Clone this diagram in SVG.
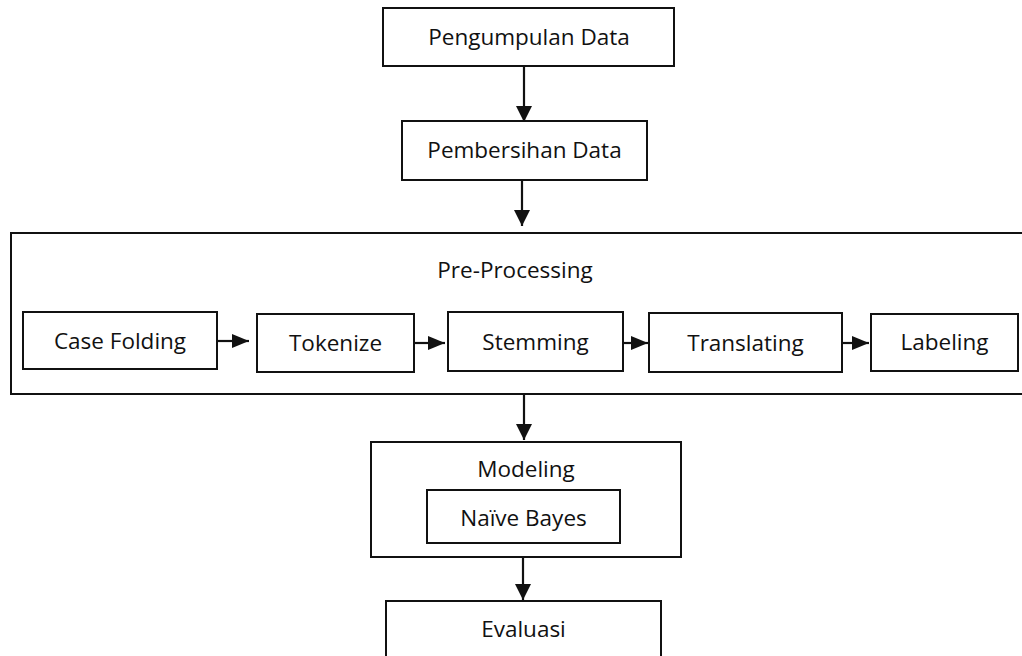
<svg xmlns="http://www.w3.org/2000/svg" width="1022" height="656" viewBox="0 0 1022 656">
  <style>
    .box { fill: #ffffff; stroke: #111111; stroke-width: 2; }
    .label { font-family: "Open Sans", "Noto Sans", "Liberation Sans", sans-serif; font-size: 22.5px; fill: #111111; text-anchor: middle; }
    .link { stroke: #111111; stroke-width: 2.2; fill: none; }
  </style>
  <defs>
    <marker id="headDown" markerUnits="userSpaceOnUse" markerWidth="16" markerHeight="16" refX="14" refY="7" orient="auto" viewBox="0 0 14 14">
      <path d="M0,0 L14,7 L0,14 Z" fill="#111111"/>
    </marker>
    <marker id="headSide" markerUnits="userSpaceOnUse" markerWidth="17" markerHeight="14" refX="16" refY="6.5" orient="auto" viewBox="0 0 16 13">
      <path d="M0,0 L16,6.5 L0,13 Z" fill="#111111"/>
    </marker>
  </defs>

  <g id="pengumpulan-data">
    <rect class="box" x="383" y="8" width="291" height="58"/>
    <text class="label" x="529" y="45">Pengumpulan Data</text>
  </g>

  <g id="pembersihan-data">
    <rect class="box" x="402" y="121" width="245" height="59"/>
    <text class="label" x="524.5" y="158">Pembersihan Data</text>
  </g>

  <g id="pre-processing">
    <rect class="box" x="11" y="233" width="1022" height="161"/>
    <text class="label" x="515" y="278">Pre-Processing</text>
  </g>

  <g id="case-folding">
    <rect class="box" x="23" y="312" width="194" height="57"/>
    <text class="label" x="120" y="349">Case Folding</text>
  </g>

  <g id="tokenize">
    <rect class="box" x="257" y="314" width="157" height="58"/>
    <text class="label" x="335.5" y="351">Tokenize</text>
  </g>

  <g id="stemming">
    <rect class="box" x="448" y="312" width="175" height="59"/>
    <text class="label" x="535.5" y="350">Stemming</text>
  </g>

  <g id="translating">
    <rect class="box" x="649" y="313" width="193" height="59"/>
    <text class="label" x="745.5" y="351">Translating</text>
  </g>

  <g id="labeling">
    <rect class="box" x="871" y="314" width="147" height="57"/>
    <text class="label" x="944.5" y="350">Labeling</text>
  </g>

  <g id="modeling">
    <rect class="box" x="371" y="442" width="310" height="115"/>
    <text class="label" x="526" y="477">Modeling</text>
  </g>

  <g id="naive-bayes">
    <rect class="box" x="427" y="490" width="193" height="53"/>
    <text class="label" x="523.5" y="526">Naïve Bayes</text>
  </g>

  <g id="evaluasi">
    <rect class="box" x="386" y="601" width="275" height="70"/>
    <text class="label" x="523.5" y="637">Evaluasi</text>
  </g>

  <g id="connectors">
    <line class="link" x1="524" y1="66" x2="524" y2="122" marker-end="url(#headDown)"/>
    <line class="link" x1="522" y1="180" x2="522" y2="226" marker-end="url(#headDown)"/>
    <line class="link" x1="524" y1="394" x2="524" y2="440" marker-end="url(#headDown)"/>
    <line class="link" x1="523" y1="557" x2="523" y2="600" marker-end="url(#headDown)"/>
    <line class="link" x1="217" y1="341" x2="249" y2="341" marker-end="url(#headSide)"/>
    <line class="link" x1="414" y1="343" x2="445" y2="343" marker-end="url(#headSide)"/>
    <line class="link" x1="623" y1="343" x2="648" y2="343" marker-end="url(#headSide)"/>
    <line class="link" x1="842" y1="343" x2="869" y2="343" marker-end="url(#headSide)"/>
  </g>
</svg>
